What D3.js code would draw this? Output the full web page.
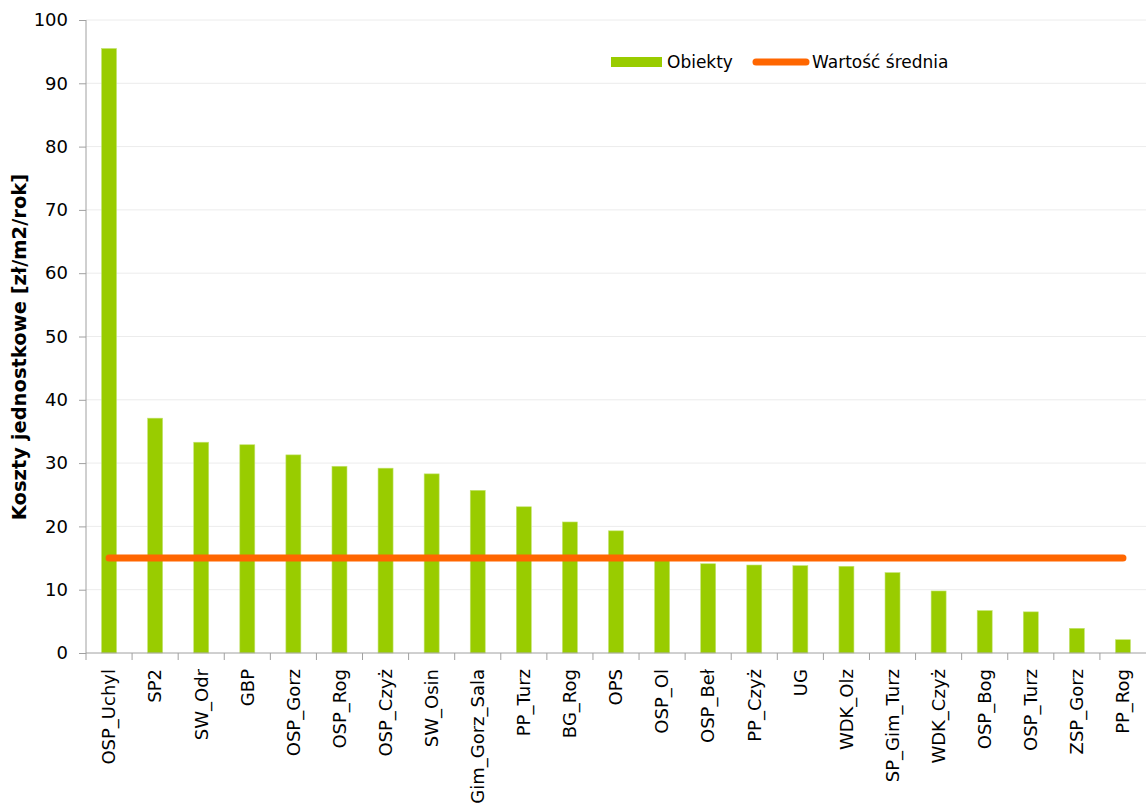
<!DOCTYPE html>
<html>
<head>
<meta charset="utf-8">
<script src="https://cdn.jsdelivr.net/npm/d3@7"></script>
<style>
  html, body { margin: 0; padding: 0; background: #ffffff; }
  svg { display: block; font-family: "DejaVu Sans", Verdana, sans-serif; }
</style>
</head>
<body>
<svg id="chart" width="1146" height="810"></svg>
<script>
const categories = ["OSP_Uchyl","SP2","SW_Odr","GBP","OSP_Gorz","OSP_Rog","OSP_Czyż","SW_Osin","Gim_Gorz_Sala","PP_Turz","BG_Rog","OPS","OSP_Ol","OSP_Beł","PP_Czyż","UG","WDK_Olz","SP_Gim_Turz","WDK_Czyż","OSP_Bog","OSP_Turz","ZSP_Gorz","PP_Rog"];
const values = [95.5,37.1,33.3,32.9,31.3,29.5,29.2,28.3,25.7,23.1,20.7,19.3,14.9,14.1,13.9,13.8,13.7,12.7,9.8,6.7,6.5,3.9,2.1];
const meanValue = 15.0;
const yTicks = [0,10,20,30,40,50,60,70,80,90,100];
const seriesNames = ["Obiekty","Wartość średnia"];
const yTitle = "Koszty jednostkowe [zł/m2/rok]";

const svg = d3.select("#chart");
const pLeft = 86, pRight = 1146, pTop = 20, pBottom = 653;

const x = d3.scaleBand().domain(categories).range([pLeft, pRight]).paddingInner(0).paddingOuter(0);
const y = d3.scaleLinear().domain([0, 100]).range([pBottom, pTop]);

// gridlines
svg.append("g").selectAll("line").data(yTicks.filter(d => d > 0)).join("line")
  .attr("x1", pLeft).attr("x2", pRight)
  .attr("y1", d => y(d)).attr("y2", d => y(d))
  .attr("stroke", "#ececec").attr("stroke-width", 1);

// bars
const bw = 15;
svg.append("g").selectAll("rect").data(values).join("rect")
  .attr("x", (d, i) => x(categories[i]) + x.bandwidth() / 2 - bw / 2)
  .attr("y", d => y(d))
  .attr("width", bw)
  .attr("height", d => y(0) - y(d))
  .attr("fill", "#99cc00")
  .attr("stroke", "#c4e373").attr("stroke-width", 0.6);

// mean line
const first = categories[0], last = categories[categories.length - 1];
svg.append("line")
  .attr("x1", x(first) + x.bandwidth() / 2)
  .attr("x2", x(last) + x.bandwidth() / 2)
  .attr("y1", y(meanValue)).attr("y2", y(meanValue))
  .attr("stroke", "#ff6600").attr("stroke-width", 7).attr("stroke-linecap", "round");

// y axis
const yAxis = d3.axisLeft(y).tickValues(yTicks).tickSize(7).tickPadding(11).tickFormat(d3.format("d"));
const gy = svg.append("g").attr("transform", `translate(${pLeft},0)`).call(yAxis);
gy.select(".domain").attr("stroke", "#a0a0a0").attr("d", `M0,${pTop}V${pBottom}`);
gy.selectAll(".tick line").attr("stroke", "#a0a0a0");
gy.selectAll(".tick text").attr("font-size", 18).attr("fill", "#000").attr("font-family", "DejaVu Sans");

// x axis
const gx = svg.append("g").attr("transform", `translate(0,${pBottom})`);
gx.append("line").attr("x1", pLeft).attr("x2", pRight).attr("y1", 0).attr("y2", 0).attr("stroke", "#a0a0a0");
gx.selectAll("line.tk").data(categories).join("line").attr("class", "tk")
  .attr("x1", d => x(d)).attr("x2", d => x(d)).attr("y1", 0).attr("y2", 7)
  .attr("stroke", "#a0a0a0");
gx.selectAll("text").data(categories).join("text")
  .attr("transform", d => `translate(${x(d) + x.bandwidth() / 2},16) rotate(-90)`)
  .attr("text-anchor", "end").attr("dy", "0.35em")
  .attr("font-size", 18).attr("fill", "#000")
  .text(d => d);

// y title
svg.append("text")
  .attr("transform", `translate(26,347) rotate(-90)`)
  .attr("text-anchor", "middle")
  .attr("font-size", 19.5).attr("font-weight", "bold").attr("fill", "#000")
  .text(yTitle);

// legend
const lg = svg.append("g");
lg.append("rect").attr("x", 611).attr("y", 57).attr("width", 51).attr("height", 10).attr("fill", "#99cc00");
lg.append("text").attr("x", 667).attr("y", 62).attr("dy", "0.35em").attr("font-size", 17).attr("fill", "#000").text(seriesNames[0]);
lg.append("line").attr("x1", 756).attr("x2", 806).attr("y1", 62).attr("y2", 62)
  .attr("stroke", "#ff6600").attr("stroke-width", 7).attr("stroke-linecap", "round");
lg.append("text").attr("x", 812).attr("y", 62).attr("dy", "0.35em").attr("font-size", 17).attr("fill", "#000").text(seriesNames[1]);
</script>
</body>
</html>
